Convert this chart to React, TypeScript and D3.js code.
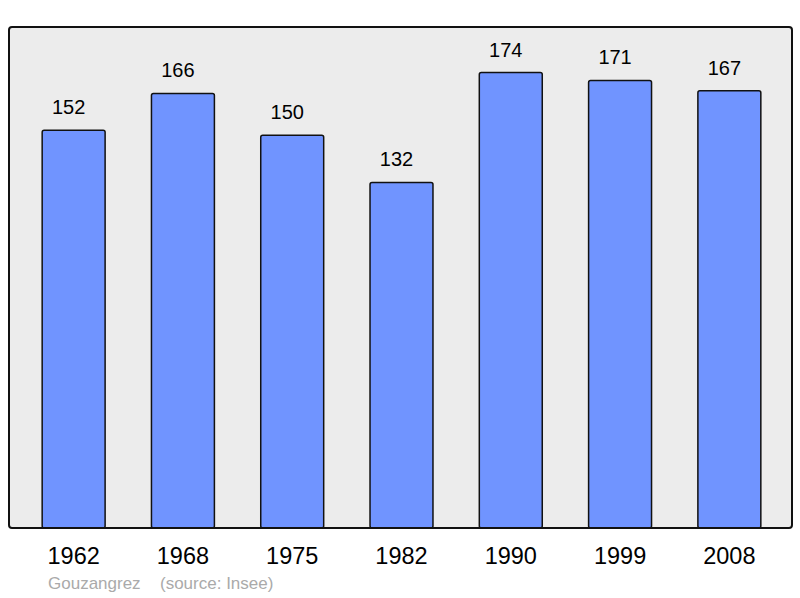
import React, { useEffect, useRef } from 'react';
import * as d3 from 'd3';

const years = ['1962', '1968', '1975', '1982', '1990', '1999', '2008'];
const population = [152, 166, 150, 132, 174, 171, 167];
const town = 'Gouzangrez';
const source = '(source: Insee)';

const App: React.FC = () => {
  const chartRef = useRef<SVGSVGElement>(null);

  useEffect(() => {
    if (!chartRef.current) return;
    const svg = d3.select(chartRef.current);
    svg.selectAll('*').remove();

    const frame = { left: 9, top: 27, right: 792, bottom: 528 };
    const font = 'Liberation Sans, Arial, sans-serif';

    const x = d3
      .scaleBand()
      .domain(years)
      .range([19, 784])
      .paddingInner(0.424)
      .paddingOuter(0.212);

    const y = d3
      .scaleLinear()
      .domain([0, (d3.max(population) as number) * 1.1])
      .range([frame.bottom, frame.top]);

    // Plot background
    svg
      .append('rect')
      .attr('x', frame.left)
      .attr('y', frame.top)
      .attr('width', frame.right - frame.left)
      .attr('height', frame.bottom - frame.top)
      .attr('rx', 3)
      .attr('fill', '#ececec');

    const data = years.map((year, i) => ({ year, value: population[i] }));

    // Bars
    svg
      .append('g')
      .selectAll('rect')
      .data(data)
      .enter()
      .append('rect')
      .attr('x', (d) => x(d.year) || 0)
      .attr('y', (d) => y(d.value))
      .attr('width', x.bandwidth())
      .attr('height', (d) => frame.bottom - y(d.value))
      .attr('rx', 2)
      .attr('fill', '#7094ff')
      .attr('stroke', '#111')
      .attr('stroke-width', 1.5);

    // Frame border drawn over bars
    svg
      .append('rect')
      .attr('x', frame.left)
      .attr('y', frame.top)
      .attr('width', frame.right - frame.left)
      .attr('height', frame.bottom - frame.top)
      .attr('rx', 3)
      .attr('fill', 'none')
      .attr('stroke', '#111')
      .attr('stroke-width', 2);

    // Value labels
    svg
      .append('g')
      .attr('font-family', font)
      .attr('font-size', 20)
      .attr('text-anchor', 'middle')
      .attr('fill', '#000')
      .selectAll('text')
      .data(data)
      .enter()
      .append('text')
      .attr('x', (d) => (x(d.year) || 0) + x.bandwidth() / 2 - 5)
      .attr('y', (d) => y(d.value) - 16)
      .text((d) => d.value);

    // Year labels
    svg
      .append('g')
      .attr('font-family', font)
      .attr('font-size', 23.5)
      .attr('text-anchor', 'middle')
      .attr('fill', '#000')
      .selectAll('text')
      .data(years)
      .enter()
      .append('text')
      .attr('x', (d) => (x(d) || 0) + x.bandwidth() / 2)
      .attr('y', 564)
      .text((d) => d);

    // Footer
    const footer = svg
      .append('g')
      .attr('font-family', font)
      .attr('font-size', 17)
      .attr('fill', '#aaaaaa');
    footer.append('text').attr('x', 48).attr('y', 589).text(town);
    footer.append('text').attr('x', 160).attr('y', 589).text(source);

    return () => {
      svg.selectAll('*').remove();
    };
  }, []);

  return (
    <svg
      ref={chartRef}
      width={800}
      height={598}
      style={{ position: 'absolute', left: 0, top: 0 }}
    ></svg>
  );
};

export default App;
